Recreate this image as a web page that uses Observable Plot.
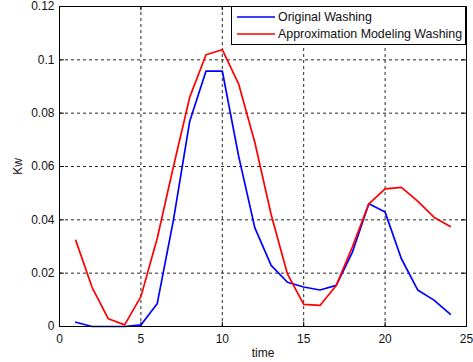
<!DOCTYPE html>
<html>
<head>
<meta charset="utf-8">
<script src="https://cdn.jsdelivr.net/npm/d3@7"></script>
<script src="https://cdn.jsdelivr.net/npm/@observablehq/plot@0.6"></script>
<style>
  html, body { margin: 0; padding: 0; background: #fff; }
  #wrap { position: relative; width: 473px; height: 362px; font-family: "Liberation Sans", Arial, sans-serif; }
  #legend { position: absolute; left: 231px; top: 6px; width: 233px; height: 37px; border: 1px solid #000; background: #fff; box-sizing: content-box; }
  .row { position: absolute; left: 0; height: 16px; display: flex; align-items: center; font-size: 12.4px; color: #111; white-space: nowrap; }
  .row svg { margin-left: 5px; margin-right: 3px; }
</style>
</head>
<body>
<div id="wrap"></div>
<script>
const time = [1,2,3,4,5,6,7,8,9,10,11,12,13,14,15,16,17,18,19,20,21,22,23,24];
const original = [0.0016,0,0,0,0.0006,0.0085,0.040,0.077,0.0958,0.0958,0.064,0.037,0.0229,0.0166,0.0148,0.0137,0.0154,0.028,0.046,0.0429,0.0254,0.0137,0.0099,0.0046];
const approx = [0.0323,0.0147,0.0029,0.0006,0.0112,0.033,0.060,0.086,0.1019,0.1038,0.091,0.069,0.042,0.0197,0.0083,0.0079,0.0154,0.030,0.046,0.0516,0.0522,0.047,0.041,0.0375];
const seriesNames = ["Original Washing", "Approximation Modeling Washing"];
const seriesColors = ["#0000ff", "#ff0000"];
const xTicks = [0,5,10,15,20,25];
const yTicks = [0,0.02,0.04,0.06,0.08,0.1,0.12];
const xLabel = "time";
const yLabel = "Kw";

const rows = time.flatMap((t, i) => [
  {t, v: original[i], s: seriesNames[0]},
  {t, v: approx[i], s: seriesNames[1]}
]);
const innerX = xTicks.slice(1, -1);
const innerY = yTicks.slice(1, -1);
const grid = {stroke: "#000", strokeOpacity: 0.85, strokeDasharray: "3,3"};

const chart = Plot.plot({
  width: 473, height: 362,
  marginLeft: 59, marginRight: 7, marginTop: 6, marginBottom: 36,
  style: {fontFamily: "Liberation Sans, Arial, sans-serif", fontSize: "12px", color: "#111", background: "#fff"},
  x: {domain: [0, 25]},
  y: {domain: [0, 0.12]},
  color: {domain: seriesNames, range: seriesColors},
  marks: [
    Plot.ruleX(innerX, grid),
    Plot.ruleY(innerY, grid),
    // inward tick marks (MATLAB style)
    Plot.ruleX(xTicks, {y1: 0, y2: 0.0016, stroke: "#000"}),
    Plot.ruleX(xTicks, {y1: 0.1184, y2: 0.12, stroke: "#000"}),
    Plot.ruleY(yTicks, {x1: 0, x2: 0.3, stroke: "#000"}),
    Plot.ruleY(yTicks, {x1: 24.7, x2: 25, stroke: "#000"}),
    Plot.line(rows, {x: "t", y: "v", z: "s", stroke: "s", strokeWidth: 1.7}),
    Plot.frame({stroke: "#000"}),
    Plot.axisX({ticks: xTicks, tickSize: 0, tickPadding: 8, tickFormat: d => String(d),
      label: xLabel, labelAnchor: "center", labelOffset: 30, labelArrow: "none"}),
    Plot.axisY({ticks: yTicks, tickSize: 0, tickPadding: 5, tickFormat: d => d === 0 ? "0" : String(+d.toFixed(2)),
      label: yLabel, labelAnchor: "center", labelOffset: 46, labelArrow: "none"})
  ]
});
const wrap = document.getElementById("wrap");
wrap.appendChild(chart);

const legend = document.createElement("div");
legend.id = "legend";
seriesNames.forEach((name, i) => {
  const row = document.createElement("div");
  row.className = "row";
  row.style.top = (i === 0 ? 2 : 19) + "px";
  row.innerHTML = `<svg width="38" height="4"><line x1="0" y1="2" x2="38" y2="2" stroke="${seriesColors[i]}" stroke-width="1.7"/></svg>`;
  const span = document.createElement("span");
  span.textContent = name;
  row.appendChild(span);
  legend.appendChild(row);
});
wrap.appendChild(legend);
</script>
</body>
</html>
